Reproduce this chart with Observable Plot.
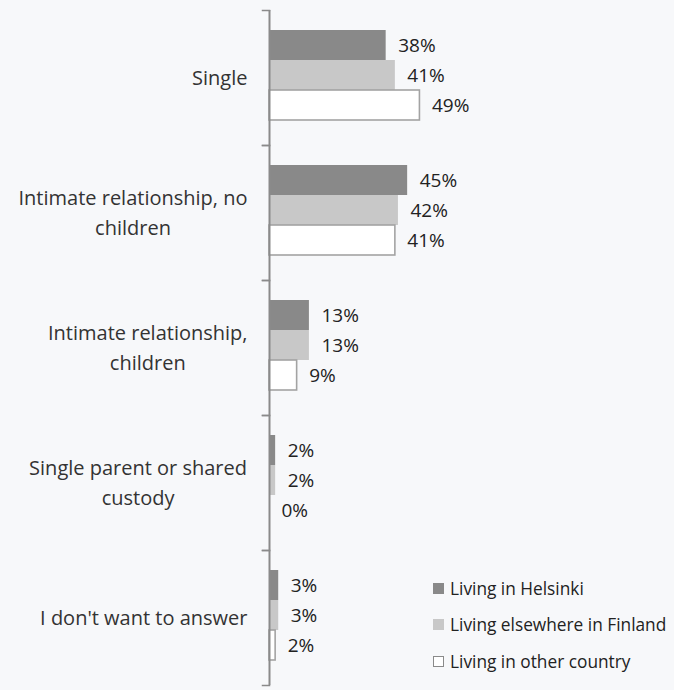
<!DOCTYPE html>
<html>
<head>
<meta charset="utf-8">
<script src="https://cdn.jsdelivr.net/npm/d3@7"></script>
<script src="https://cdn.jsdelivr.net/npm/@observablehq/plot@0.6"></script>
<style>
  html, body { margin: 0; padding: 0; background: #f7f8fa; }
  #wrap { position: relative; width: 674px; height: 690px; font-family: "Open Sans", sans-serif; color: #222; }
  #legend { position: absolute; left: 433px; top: 570px; font-size: 17.3px; }
  #legend .row { display: flex; align-items: center; height: 36.5px; }
  #legend .sw { width: 11px; height: 11px; margin-right: 6px; box-sizing: border-box; }
</style>
</head>
<body>
<div id="wrap"><div id="chart"></div><div id="legend"></div></div>
<script>
const categories = [
  "Single",
  "Intimate relationship, no\nchildren",
  "Intimate relationship,\nchildren",
  "Single parent or shared\ncustody",
  "I don't want to answer"
];
const series = ["Living in Helsinki", "Living elsewhere in Finland", "Living in other country"];
const helsinki = [38, 45, 13, 2, 3];
const elsewhere = [41, 42, 13, 2, 3];
const otherCountry = [49, 41, 9, 0, 2];
const fills = ["#898989", "#c8c8c8", "#ffffff"];
const strokes = ["none", "none", "#a3a3a3"];

const values = [helsinki, elsewhere, otherCountry];
const data = [];
categories.forEach((c, i) => series.forEach((s, j) => data.push({category: c, series: s, value: values[j][i]})));

const W = 674, H = 690, ML = 269, MR = 98;
const frameW = W - ML - MR;

const chart = Plot.plot({
  width: W,
  height: H,
  marginLeft: ML,
  marginRight: MR,
  marginTop: 10,
  marginBottom: 5,
  style: {background: "transparent", fontFamily: "Open Sans, sans-serif"},
  x: {domain: [0, 100], axis: null},
  y: {domain: series, axis: null, paddingInner: 0, paddingOuter: 0.75, align: 0.45},
  fy: {domain: categories, padding: 0, label: null},
  marks: [
    Plot.barX(data, {
      fy: "category", y: "series", x: "value",
      fill: d => fills[series.indexOf(d.series)],
      stroke: d => strokes[series.indexOf(d.series)],
      strokeWidth: 1.6
    }),
    Plot.text(data, {
      fy: "category", y: "series", x: "value",
      text: d => d.value + "%",
      textAnchor: "start", dx: 12, fontSize: 19, fill: "#222"
    }),
    Plot.frame({anchor: "top", stroke: "#8a8a8a", strokeWidth: 1.5, insetLeft: -7, insetRight: frameW}),
    Plot.frame({anchor: "bottom", stroke: "#8a8a8a", strokeWidth: 1.5, insetLeft: -7, insetRight: frameW}),
    Plot.ruleX([0], {stroke: "#8a8a8a", strokeWidth: 2}),
    Plot.axisFy({anchor: "left", tickSize: 0, tickPadding: 22, fontSize: 20, lineHeight: 1.5, dy: -3, fill: "#333", label: null})
  ]
});
document.getElementById("chart").appendChild(chart);

// center multi-line category labels on each other, keeping the block right-aligned
chart.querySelectorAll('g[aria-label^="fy-axis tick label"] text').forEach(t => {
  const w = t.getBBox().width;
  t.setAttribute("text-anchor", "middle");
  const tr = t.getAttribute("transform") || "";
  t.setAttribute("transform", tr + ` translate(${-w / 2},0)`);
});

const legend = document.getElementById("legend");
series.forEach((s, j) => {
  const row = document.createElement("div");
  row.className = "row";
  const sw = document.createElement("div");
  sw.className = "sw";
  sw.style.background = fills[j];
  sw.style.border = j === 2 ? "1.5px solid #8a8a8a" : "none";
  row.appendChild(sw);
  const lab = document.createElement("span");
  lab.textContent = s;
  row.appendChild(lab);
  legend.appendChild(row);
});
</script>
</body>
</html>
